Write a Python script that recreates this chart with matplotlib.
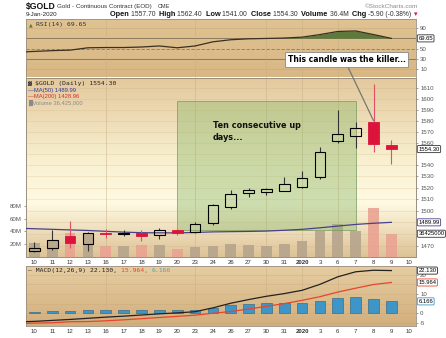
import numpy as np
import matplotlib.pyplot as plt
from matplotlib.patches import Rectangle
from matplotlib.colors import LinearSegmentedColormap
from matplotlib.transforms import blended_transform_factory
from matplotlib.ticker import NullLocator, FixedFormatter, FixedLocator

# trading days Dec 10 2019 .. Jan 10 2020 (the last slot has no bar yet)
dates = ['10', '11', '12', '13', '16', '17', '18', '19', '20', '23', '24',
         '26', '27', '30', '31', '2020', '3', '6', '7', '8', '9', '10']

opens = [1465.5, 1467.7, 1478.5, 1471.5, 1481.0, 1480.0, 1480.5, 1478.8, 1483.0, 1482.0, 1489.5,
         1503.3, 1515.7, 1516.0, 1517.5, 1520.5, 1529.3, 1561.5, 1566.0, 1579.0, 1557.7]
highs = [1473.5, 1483.0, 1491.0, 1482.0, 1484.5, 1483.7, 1483.0, 1485.3, 1484.5, 1490.3, 1505.5,
         1518.0, 1520.0, 1520.0, 1529.5, 1534.5, 1555.8, 1590.0, 1579.0, 1613.7, 1562.4]
lows = [1464.4, 1466.5, 1467.7, 1465.3, 1477.0, 1478.5, 1474.0, 1476.0, 1479.5, 1480.5, 1487.5,
        1501.5, 1511.5, 1513.5, 1517.0, 1519.5, 1527.7, 1560.0, 1555.5, 1552.0, 1541.0]
closes = [1467.7, 1474.7, 1472.5, 1480.5, 1479.7, 1480.6, 1478.2, 1483.6, 1480.5, 1488.3, 1505.0,
          1514.5, 1518.0, 1519.0, 1523.5, 1528.5, 1551.7, 1568.0, 1573.5, 1558.5, 1554.3]
close_dec9 = 1464.0
volume_m = [22.0, 26.0, 38.0, 37.0, 17.0, 17.0, 18.5, 18.5, 13.3, 15.0, 17.0,
            21.0, 18.5, 17.0, 21.0, 24.8, 41.0, 51.4, 41.0, 77.0, 36.425]

# indicator series start one day earlier (Dec 9), just left of the visible range
ma50 = [1485.0, 1484.5, 1484.0, 1483.5, 1483.0, 1482.3, 1481.6, 1481.1, 1481.0, 1481.0, 1481.3,
        1481.8, 1482.0, 1482.2, 1482.5, 1483.2, 1484.0, 1485.3, 1486.8, 1488.2, 1489.2, 1489.99]
rsi = [43.0, 44.5, 46.0, 47.0, 51.5, 52.0, 52.0, 53.0, 55.0, 51.5, 55.0,
       63.0, 67.0, 68.8, 69.5, 70.3, 72.0, 77.0, 83.0, 84.0, 77.0, 69.65]
macd = [-4.5, -4.2, -3.7, -3.2, -2.6, -2.0, -1.5, -0.9, -0.3, 0.2, 0.8,
        2.8, 5.2, 7.1, 8.8, 10.2, 11.9, 15.0, 18.9, 21.5, 22.3, 22.130]
signal = [-5.3, -5.1, -4.9, -4.4, -4.3, -3.9, -3.4, -2.8, -2.2, -1.6, -1.0,
          0.0, 0.9, 2.2, 3.6, 5.0, 6.7, 8.6, 11.0, 13.0, 14.9, 15.964]

price_ticks = [1470, 1500, 1510, 1520, 1530, 1540, 1560, 1570, 1580, 1590, 1600, 1610]
vol_ticks = [20, 40, 60, 80]
rsi_ticks = [90, 50, 30, 10]
macd_ticks = [20, 10, 0, -5]
mondays = [4, 9, 13, 15, 17]

W, H = 446, 338
RED = '#dc143c'
SANS = ['Liberation Sans', 'DejaVu Sans']
TICK_FONT = dict(family=SANS, size=4.4, color='#333333')


def fx(px):
    return px / W


def fy(py):
    return 1 - py / H


def gradient(ax, stops):
    cmap = LinearSegmentedColormap.from_list('bg', stops)
    g = np.linspace(0, 1, 256).reshape(-1, 1)
    ax.imshow(g, cmap=cmap, extent=[0, 1, 0, 1], transform=ax.transAxes,
              aspect='auto', zorder=0, interpolation='bicubic')


def frame(ax):
    for s in ax.spines.values():
        s.set_color('#9a8f80')
        s.set_linewidth(0.6)


def value_tag(ax, y, s, ec):
    tr = blended_transform_factory(ax.transAxes, ax.transData)
    ax.text(1.006, y, s, transform=tr, ha='left', va='center', fontsize=4.2,
            family=SANS, color='black', clip_on=False, zorder=10,
            bbox=dict(boxstyle='round,pad=0.18', fc='white', ec=ec, lw=0.6))


def text_run(fig, x, y, parts, **kw):
    r = fig.canvas.get_renderer()
    for s, style in parts:
        t = fig.text(x, y, s, va='center', **kw, **style)
        x += t.get_window_extent(r).width / fig.bbox.width


fig = plt.figure(figsize=(W / 100, H / 100), dpi=100)
left, right = fx(26), fx(416)
xlim = (-0.47, 21.38)
n = len(closes)
x = np.arange(n)
xl = np.arange(-1, n)

vline_col = (0.78, 0.68, 0.52, 0.55)

# ---- RSI panel ----
ax_rsi = fig.add_axes([left, fy(77.5), right - left, fy(19) - fy(77.5)])
gradient(ax_rsi, ['#e0c393', '#d8b784'])
ax_rsi.set_xlim(*xlim)
ax_rsi.set_ylim(-5.8, 107)
for lvl in (90, 10):
    ax_rsi.axhline(lvl, color=(0.75, 0.63, 0.45, 0.5), lw=0.5, zorder=1)
ax_rsi.axhline(70, color='#8b7a5c', lw=0.7, zorder=1)
ax_rsi.axhline(30, color='#8b7a5c', lw=0.7, zorder=1)
ax_rsi.axhline(50, color='#8b7a5c', lw=0.6, ls=(0, (4, 2)), zorder=1)
for m in mondays:
    ax_rsi.axvline(m, color=vline_col, lw=0.6, zorder=1)
r = np.array(rsi)
ax_rsi.fill_between(xl, r, 70, where=r > 70, interpolate=True, color='#5d7a3c', lw=0, zorder=2)
ax_rsi.plot(xl, r, color='#3b2f20', lw=0.9, zorder=3)
ax_rsi.set_xticks([])
ax_rsi.yaxis.tick_right()
ax_rsi.set_yticks(rsi_ticks)
ax_rsi.set_yticklabels([str(t) for t in rsi_ticks], fontdict=TICK_FONT)
ax_rsi.tick_params(axis='y', length=1.5, width=0.4, pad=1.5, colors='#555555')
frame(ax_rsi)
ax_rsi.text(0.008, 0.9, '\u25b2', transform=ax_rsi.transAxes, fontsize=3.5, color='#5d7a3c', va='center')
ax_rsi.text(0.026, 0.9, 'RSI(14) 69.65', transform=ax_rsi.transAxes, fontsize=4.6,
            family='DejaVu Sans Mono', color='#333333', va='center')
value_tag(ax_rsi, rsi[-1], f'{rsi[-1]:.2f}', '#333333')

# ---- price panel: volume underneath, candles on top ----
ax_vol = fig.add_axes([left, fy(257), right - left, fy(77.5) - fy(257)])
gradient(ax_vol, [(0.0, '#e3c89c'), (0.45, '#f8efcf'), (0.7, '#fffae2'), (1.0, '#ddc296')])
ax_vol.set_xlim(*xlim)
ax_vol.set_ylim(0, 281)
closes_prev = [close_dec9] + closes[:-1]
up_day = [c >= p for c, p in zip(closes, closes_prev)]
vcols = ['#b5a58d' if u else '#eaa392' for u in up_day]
ax_vol.bar(x, volume_m, width=0.6, color=vcols, alpha=0.9, zorder=2, lw=0)
ax_vol.yaxis.tick_left()
ax_vol.set_yticks(vol_ticks)
ax_vol.set_yticklabels([f'{t}M' for t in vol_ticks], fontdict=TICK_FONT)
ax_vol.tick_params(axis='y', length=1.5, width=0.4, pad=1.5, colors='#555555')
ax_vol.set_xticks(range(len(dates)))
ax_vol.set_xticklabels(dates, fontdict=TICK_FONT)
ax_vol.get_xticklabels()[15].set_fontweight('bold')
ax_vol.tick_params(axis='x', length=0, pad=2.2)
for m in mondays:
    ax_vol.axvline(m, color=vline_col, lw=0.6, zorder=1)
frame(ax_vol)

ax_p = ax_vol.twinx()
ax_p.set_yscale('log')
ax_p.set_ylim(1460.5, 1619.8)
ax_p.set_xlim(*xlim)
for lvl in range(1470, 1620, 10):
    ax_p.axhline(lvl, color=(0.78, 0.66, 0.48, 0.28), lw=0.5, zorder=1)

# ten up days
ax_p.add_patch(Rectangle((8, 1483), 10, 1598 - 1483, fc=(0.55, 0.72, 0.42, 0.42),
                         ec=(0.45, 0.6, 0.35, 0.7), lw=0.7, zorder=2))
ax_p.text(10.0, 1580, 'Ten consecutive up\ndays...', fontsize=5.9, fontweight='bold',
          va='top', ha='left', linespacing=1.55, color='#111111', zorder=6)

ax_p.plot(xl, ma50, color='#4a3f8c', lw=0.9, zorder=3)

for i in range(n):
    o, h, lo_, c = opens[i], highs[i], lows[i], closes[i]
    col = 'black' if up_day[i] else RED
    wick = '#333333' if up_day[i] else '#e0506a'
    b0, b1 = min(o, c), max(o, c)
    if c > o:
        ax_p.add_patch(Rectangle((i - 0.3, b0), 0.6, b1 - b0, fc='none', ec=col, lw=0.8, zorder=5))
    else:
        ax_p.add_patch(Rectangle((i - 0.3, b0), 0.6, max(b1 - b0, 0.6), fc=col, ec=col, lw=0.6, zorder=5))
    ax_p.vlines(i, b1, h, color=wick, lw=0.8, zorder=4)
    ax_p.vlines(i, lo_, b0, color=wick, lw=0.8, zorder=4)

ax_p.yaxis.set_major_locator(FixedLocator(price_ticks))
ax_p.yaxis.set_major_formatter(FixedFormatter([str(t) for t in price_ticks]))
ax_p.yaxis.set_minor_locator(NullLocator())
for lab in ax_p.get_yticklabels():
    lab.set_fontfamily(SANS)
    lab.set_fontsize(4.4)
    lab.set_color('#333333')
ax_p.tick_params(axis='y', length=1.5, width=0.4, pad=1.5, colors='#555555')
frame(ax_p)

value_tag(ax_p, closes[-1], f'{closes[-1]:.2f}', '#333333')
value_tag(ax_p, ma50[-1], f'{ma50[-1]:.2f}', '#4a3f8c')
value_tag(ax_vol, volume_m[-1], f'{int(round(volume_m[-1] * 1e6))}', '#333333')

ax_p.text(0.005, 0.968, '\u2593', transform=ax_p.transAxes, fontsize=3.6, color='#333333', va='center')
ax_p.text(0.024, 0.968, f'$GOLD (Daily) {closes[-1]:.2f}', transform=ax_p.transAxes,
          fontsize=4.6, family='DejaVu Sans Mono', color='#222222', va='center')
ax_p.text(0.005, 0.93, f'\u2014MA(50) {ma50[-1]:.2f}', transform=ax_p.transAxes,
          fontsize=4.2, family=SANS, color='#3a3a9a', va='center')
ax_p.text(0.005, 0.893, '\u2014MA(200) 1428.96', transform=ax_p.transAxes,
          fontsize=4.2, family=SANS, color='#d03030', va='center')
ax_p.text(0.005, 0.856, '\u2589Volume 36,425,000', transform=ax_p.transAxes,
          fontsize=4.2, family=SANS, color='#8a8a8a', va='center')

ax_p.annotate('This candle was the killer...', xy=(19, 1580),
              xytext=(fx(346.5), fy(59.5)), textcoords='figure fraction',
              fontsize=5.5, fontweight='bold', ha='center', va='center', color='black',
              annotation_clip=False, zorder=20,
              bbox=dict(boxstyle='square,pad=0.35', fc='white', ec='#888888', lw=0.6),
              arrowprops=dict(arrowstyle='-', color='#777777', lw=0.9,
                              relpos=(0.5, 0.0), shrinkA=0, shrinkB=0))

# ---- MACD panel ----
ax_m = fig.add_axes([left, fy(326), right - left, fy(266) - fy(326)])
gradient(ax_m, ['#e6cda2', '#d2ae7c'])
ax_m.set_xlim(*xlim)
ax_m.set_ylim(-6.6, 24.5)
for lvl in (20, 15, 10, 5, 0, -5):
    ax_m.axhline(lvl, color=(0.75, 0.62, 0.44, 0.35), lw=0.5, zorder=1)
for m in mondays:
    ax_m.axvline(m, color=vline_col, lw=0.6, zorder=1)
hist = np.array(macd[1:]) - np.array(signal[1:])
ax_m.bar(x, hist, width=0.6, color='#3d95c8', ec='#2a5f80', lw=0.4, zorder=2)
ax_m.plot(xl, signal, color='#e8452c', lw=0.9, zorder=3)
ax_m.plot(xl, macd, color='#222222', lw=0.9, zorder=4)
ax_m.yaxis.tick_right()
ax_m.set_yticks(macd_ticks)
ax_m.set_yticklabels(['20', '10', '0', '-5'], fontdict=TICK_FONT)
ax_m.tick_params(axis='y', length=1.5, width=0.4, pad=1.5, colors='#555555')
ax_m.set_xticks(range(len(dates)))
ax_m.set_xticklabels(dates, fontdict=TICK_FONT)
ax_m.get_xticklabels()[15].set_fontweight('bold')
ax_m.tick_params(axis='x', length=0, pad=2.2)
frame(ax_m)
value_tag(ax_m, macd[-1], f'{macd[-1]:.3f}', '#222222')
value_tag(ax_m, signal[-1], f'{signal[-1]:.3f}', '#e8452c')
value_tag(ax_m, hist[-1], f'{hist[-1]:.3f}', '#3d95c8')

text_run(fig, fx(28), fy(270.5), [
    ('\u2014 MACD(12,26,9) 22.130, ', dict(color='#222222')),
    ('15.964, ', dict(color='#e8452c')),
    ('6.166', dict(color='#5aa0b0')),
], fontsize=4.6, family='DejaVu Sans Mono')

# ---- header ----
fig.text(fx(26), fy(6), '$GOLD', fontsize=6.2, fontweight='bold', va='center',
         family=SANS, color='#111111')
fig.text(fx(57), fy(6.5), 'Gold - Continuous Contract (EOD)', fontsize=4.5, va='center',
         family=SANS, color='#333333')
fig.text(fx(158), fy(6.5), 'CME', fontsize=4.0, va='center', family=SANS, color='#333333')
fig.text(fx(418), fy(6.5), '\u00a9StockCharts.com', fontsize=4.6, va='center', ha='right',
         family=SANS, color='#888888')
fig.text(fx(26), fy(15), '9-Jan-2020', fontsize=4.5, va='center', family=SANS, color='#222222')
bold = dict(fontweight='bold', color='#111111', fontsize=5.3)
norm = dict(color='#333333', fontsize=4.9)
text_run(fig, fx(110), fy(15), [
    ('Open ', bold), ('1557.70  ', norm), ('High ', bold), ('1562.40  ', norm),
    ('Low ', bold), ('1541.00  ', norm), ('Close ', bold), ('1554.30  ', norm),
    ('Volume ', bold), ('36.4M  ', norm), ('Chg ', bold), ('-5.90 (-0.38%) ', norm),
    ('\u25be', dict(color=RED, fontsize=5.0)),
], family=SANS)

fig.savefig('out.png', dpi=100)
